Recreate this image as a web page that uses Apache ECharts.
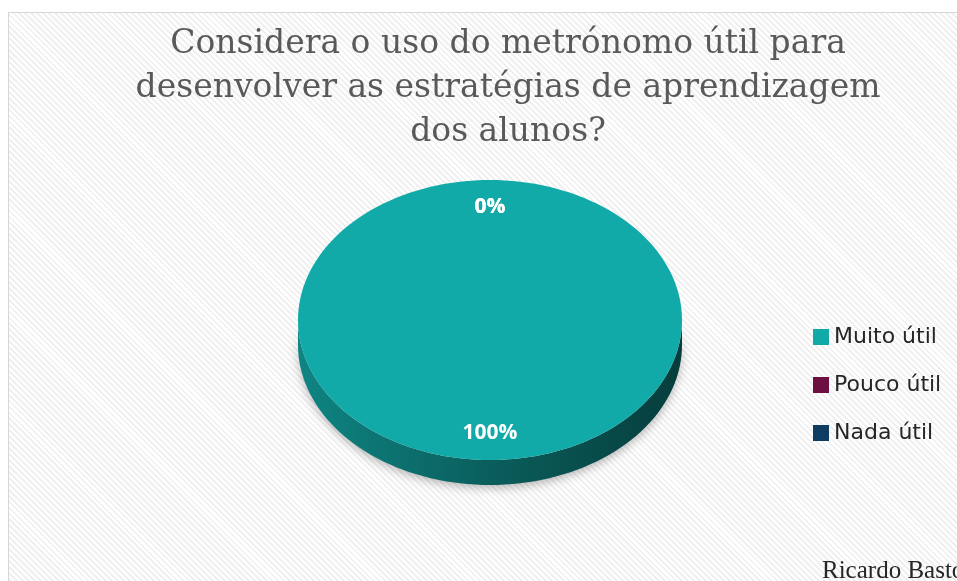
<!DOCTYPE html>
<html>
<head>
<meta charset="utf-8">
<script src="https://cdn.jsdelivr.net/npm/echarts@6/dist/echarts.min.js"></script>
<style>
    body{margin:0;background:#fff;overflow:hidden}
    .frame{position:absolute;left:8px;top:12px;width:980px;height:600px;border:1px solid #d6d6d6;
        background:repeating-linear-gradient(45deg,#ffffff 0px,#ffffff 2.2px,#f0f0f0 2.2px,#f0f0f0 4.2px)}
    #main{position:absolute;left:0;top:0;width:957px;height:581px}
</style>
</head>
<body>
<div class="frame"></div>
<div id="main"></div>
<script>
// valores do gráfico
let categorias=["Muito útil","Pouco útil","Nada útil"];
let valores=[100,0,0];
let cores=["#12aaa8","#6e0f42","#0e3d63"];
let titulo="Considera o uso do metrónomo útil para\ndesenvolver as estratégias de aprendizagem\ndos alunos?";

let total=valores.reduce((a,b)=>a+b,0);

function escurecer(hex,f){
    let n=parseInt(hex.slice(1),16);
    let r=Math.round(((n>>16)&255)*f),g=Math.round(((n>>8)&255)*f),b=Math.round((n&255)*f);
    return "rgb("+r+","+g+","+b+")";
}

// fatia em elipse com lateral (efeito 3D)
function desenharFatia(params,api){
    let cx=490,cy=320,rx=192,ry=140,prof=25;
    let ini=api.value(0),v=api.value(1);
    let cor=api.visual("color");
    let a0=ini/total*Math.PI*2,a1=(ini+v)/total*Math.PI*2;
    let pt=function(t,dy,k){k=k||1;return [cx+rx*k*Math.sin(t),cy-ry*k*Math.cos(t)+dy]};
    let arco=function(b0,b1,dy){
        let pts=[],n=Math.max(2,Math.ceil(160*(b1-b0)/(Math.PI*2)));
        for(let i=0;i<=n;i++){pts.push(pt(b0+(b1-b0)*i/n,dy))}
        return pts;
    };
    let filhos=[];
    if(v>0){
        // lateral da frente
        let b0=Math.max(a0,Math.PI/2),b1=Math.min(a1,Math.PI*1.5);
        if(b1>b0){
            let cima=arco(b0,b1,0),baixo=arco(b0,b1,prof).reverse();
            filhos.push({
                type:"polygon",
                shape:{points:cima.concat(baixo)},
                style:{
                    fill:{type:"linear",x:0,y:0,x2:1,y2:0,colorStops:[
                        {offset:0,color:escurecer(cor,0.78)},
                        {offset:0.5,color:escurecer(cor,0.55)},
                        {offset:1,color:escurecer(cor,0.36)}
                    ]},
                    shadowBlur:10,shadowColor:"rgba(0,0,0,0.28)",shadowOffsetY:3
                }
            });
        }
        let topo=arco(a0,a1,0);
        if(v<total){topo.push([cx,cy])}
        filhos.push({type:"polygon",shape:{points:topo},style:{fill:cor}});
    }
    let meio=(a0+a1)/2;
    if(v===0){meio=a0===0?0:a0}
    let p=pt(meio,0,0.81);
    filhos.push({
        type:"text",
        x:p[0],y:p[1],
        style:{
            text:Math.round(v/total*100)+"%",
            fill:"#ffffff",
            font:'bold 21px "Open Sans"',
            align:"center",
            verticalAlign:"middle"
        }
    });
    return {type:"group",children:filhos};
}

let series=[];
let acum=0;
for(let i=0;i<categorias.length;i++){
    series.push({
        type:"custom",
        name:categorias[i],
        coordinateSystem:"none",
        data:[[acum,valores[i]]],
        itemStyle:{color:cores[i]},
        renderItem:desenharFatia,
        silent:true
    });
    acum+=valores[i];
}

var myChart=echarts.init(document.getElementById("main"));
var option={
    animation:false,
    color:cores,
    legend:{
        data:categorias,
        orient:"vertical",
        left:813,
        top:326,
        icon:"rect",
        itemWidth:16,
        itemHeight:16,
        itemGap:26,
        padding:0,
        textStyle:{fontFamily:"DejaVu Sans",fontSize:22,lineHeight:18,color:"#262626"}
    },
    graphic:[{
        type:"text",
        x:508,y:22,
        style:{
            text:titulo,
            font:'33px "DejaVu Serif"',
            lineHeight:44,
            fill:"#595959",
            align:"center",
            verticalAlign:"top"
        }
    },{
        type:"text",
        x:822,y:571,
        style:{
            text:"Ricardo Bastos",
            font:'25px "Liberation Serif"',
            fill:"#262626",
            align:"left",
            verticalAlign:"middle"
        }
    }],
    series:series
};
myChart.setOption(option);
</script>
</body>
</html>
